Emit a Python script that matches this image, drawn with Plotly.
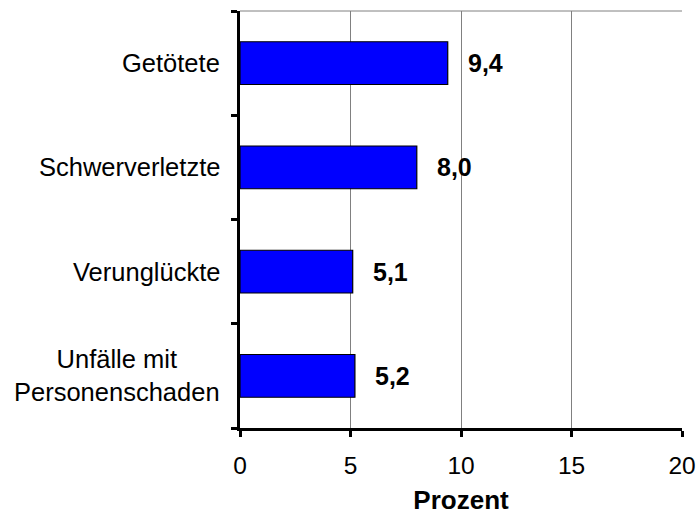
import plotly.graph_objects as go

categories = ["Unfälle mit<br>Personenschaden", "Verunglückte", "Schwerverletzte", "Getötete"]
values = [5.2, 5.1, 8.0, 9.4]
value_labels = ["5,2", "5,1", "8,0", "9,4"]
x_ticks = [0, 5, 10, 15, 20]

FONT = "Liberation Sans, Arial, sans-serif"

fig = go.Figure()
fig.add_trace(go.Bar(
    y=categories, x=values, orientation="h",
    marker=dict(color="#0000FF", line=dict(color="black", width=1.2)),
    width=0.41, hoverinfo="skip",
))

for c, v, t in zip(categories, values, value_labels):
    fig.add_annotation(x=v, y=c, xref="x", yref="y", text="<b>" + t + "</b>",
                       showarrow=False, xanchor="left", xshift=18,
                       font=dict(family=FONT, size=25, color="black"))
    fig.add_annotation(x=0, y=c, xref="paper", yref="y", text=c,
                       showarrow=False, xanchor="right", align="center", xshift=-18,
                       font=dict(family=FONT, size=25.5, color="black"))

fig.update_layout(
    width=699, height=515,
    margin=dict(l=240, r=17, t=11, b=87),
    paper_bgcolor="white", plot_bgcolor="white",
    showlegend=False,
    font=dict(family=FONT, size=24.5, color="black"),
    shapes=[dict(type="line", xref="paper", yref="paper", x0=0, x1=1, y0=1, y1=1,
                 line=dict(color="#808080", width=1))],
)
fig.update_xaxes(
    range=[0, 20], tickvals=x_ticks, ticktext=[str(v) for v in x_ticks],
    showgrid=True, gridcolor="#808080", gridwidth=1,
    showline=True, linecolor="black", linewidth=3,
    ticks="outside", ticklen=6, tickwidth=3, tickcolor="black",
    ticklabelstandoff=8, zeroline=False, automargin=False,
    title=dict(text="<b>Prozent</b>", font=dict(size=26), standoff=21),
    fixedrange=True,
)
fig.update_yaxes(
    categoryorder="array", categoryarray=categories,
    showticklabels=False, showgrid=False,
    showline=True, linecolor="black", linewidth=3,
    ticks="outside", ticklen=6, tickwidth=3, tickcolor="black",
    tickson="boundaries", fixedrange=True, automargin=False,
)

fig.write_html(
    "out.html",
    config={"displayModeBar": False, "staticPlot": True},
    post_script="document.body.style.margin='0';document.body.style.overflow='hidden';",
)
